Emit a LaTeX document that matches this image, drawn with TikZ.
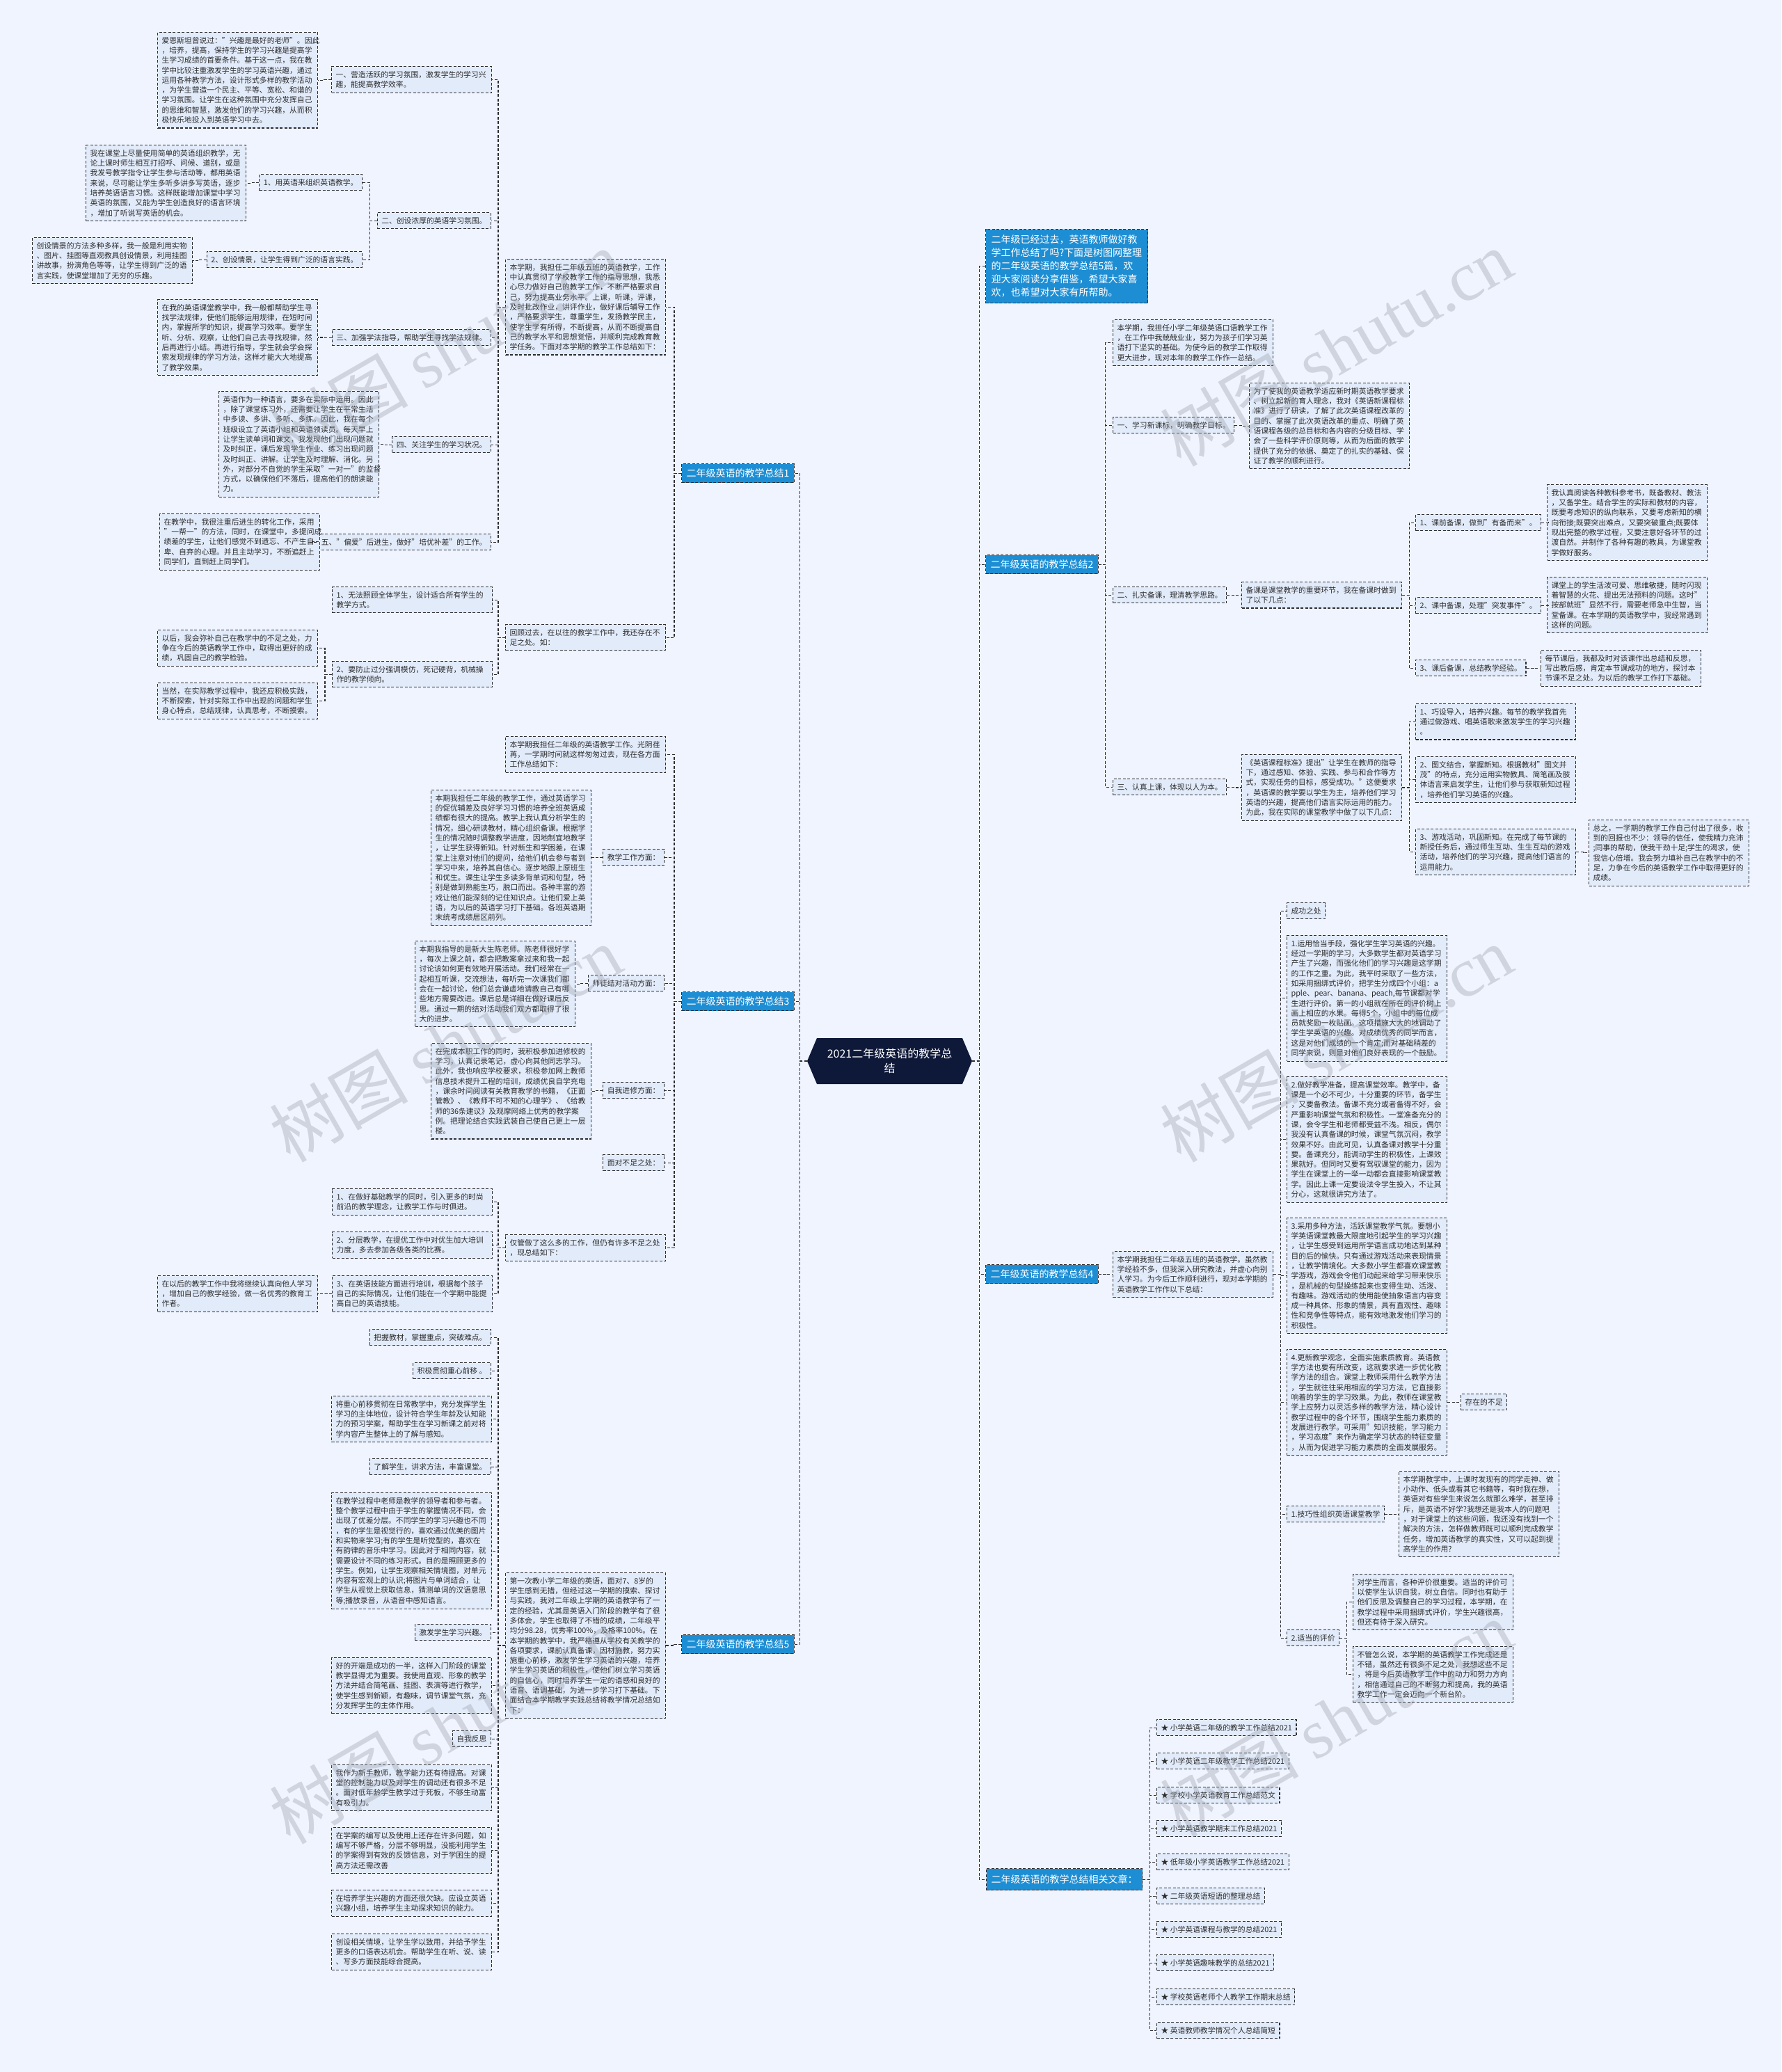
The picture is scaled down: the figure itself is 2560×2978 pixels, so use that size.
\documentclass[tikz,border=0pt]{standalone}
\usepackage{fontspec}
\setmainfont{Noto Sans CJK SC}
\newfontfamily\wmfont{Liberation Serif}
\definecolor{bgc}{RGB}{239,244,254}
\definecolor{leafc}{RGB}{226,235,250}
\definecolor{bluec}{RGB}{30,142,212}
\definecolor{navyc}{RGB}{14,24,56}
\definecolor{linec}{RGB}{45,45,50}
\definecolor{wmc}{RGB}{150,155,168}
\definecolor{txtc}{RGB}{45,45,45}
\tikzset{
 base/.style={draw=linec, dash pattern=on 4pt off 2.5pt, line width=1.1pt, inner xsep=6pt, inner ysep=6.5pt, align=left, font=\fontsize{10.8}{14.3}\selectfont, text=txtc},
 lf/.style={base, fill=leafc},
 pw/.style={lf, text width=218pt},
 bl/.style={base, fill=bluec, text=white, font=\fontsize{14}{19}\selectfont, inner xsep=7pt, inner ysep=7pt},
 cn/.style={draw=linec, dash pattern=on 4pt off 2.5pt, line width=1.1pt},
 wm/.style={rotate=30, text=wmc, opacity=0.35, font=\fontsize{100}{100}\selectfont},
}
\newcommand\lk[2]{\draw[cn] (#1.west) -- ++(-10pt,0pt) |- (#2.east);}
\newcommand\rk[2]{\draw[cn] (#1.east) -- ++(10pt,0pt) |- (#2.west);}
\begin{document}
\begin{tikzpicture}[x=1pt,y=-1pt]
\fill[bgc] (0,0) rectangle (2560,2978);
\useasboundingbox (0,0) rectangle (2560,2978);

% ---------- root ----------
\fill[navyc] (1160,1525) -- (1174,1492) -- (1383,1492) -- (1397,1525) -- (1383,1558) -- (1174,1558) -- cycle;
\node[text=white, font=\fontsize{16}{21}\selectfont, align=center, text width=200pt, inner xsep=18.5pt, inner ysep=4pt] (root) at (1278.5,1525) {2021二年级英语的教学总\\结};

% ---------- branch 1 ----------
\node[bl, anchor=north west] (b1) at (979,666) {二年级英语的教学总结1};
\node[pw, anchor=north west] (M1a) at (726,372) {本学期，我担任二年级五班的英语教学，工作\\中认真贯彻了学校教学工作的指导思想，我悉\\心尽力做好自己的教学工作，不断严格要求自\\己，努力提高业务水平。上课，听课，评课，\\及时批改作业，讲评作业，做好课后辅导工作\\，严格要求学生，尊重学生，发扬教学民主，\\使学生学有所得，不断提高，从而不断提高自\\己的教学水平和思想觉悟，并顺利完成教育教\\学任务。下面对本学期的教学工作总结如下：};
\node[pw, anchor=north west] (L1a) at (476,95) {一、营造活跃的学习氛围，激发学生的学习兴\\趣，能提高教学效率。};
\node[pw, anchor=north west] (P1a) at (226,46) {爱恩斯坦曾说过："兴趣是最好的老师"。因此\\，培养，提高，保持学生的学习兴趣是提高学\\生学习成绩的首要条件。基于这一点，我在教\\学中比较注重激发学生的学习英语兴趣，通过\\运用各种教学方法，设计形式多样的教学活动\\，为学生营造一个民主、平等、宽松、和谐的\\学习氛围。让学生在这种氛围中充分发挥自己\\的思维和智慧，激发他们的学习兴趣，从而积\\极快乐地投入到英语学习中去。};
\node[lf, anchor=north east] (L1c) at (706,305) {二、创设浓厚的英语学习氛围。};
\node[lf, anchor=north east] (L1b) at (521,250) {1、用英语来组织英语教学。};
\node[pw, anchor=north west] (P1b) at (123,208) {我在课堂上尽量使用简单的英语组织教学，无\\论上课时师生相互打招呼、问候、道别，或是\\我发号教学指令让学生参与活动等，都用英语\\来说，尽可能让学生多听多讲多写英语，逐步\\培养英语语言习惯。这样既能增加课堂中学习\\英语的氛围，又能为学生创造良好的语言环境\\，增加了听说写英语的机会。};
\node[lf, anchor=north east] (L1d) at (521,361) {2、创设情景，让学生得到广泛的语言实践。};
\node[pw, anchor=north west] (P1c) at (46,341) {创设情景的方法多种多样，我一般是利用实物\\、图片、挂图等直观教具创设情景，利用挂图\\讲故事，扮演角色等等，让学生得到广泛的语\\言实践，使课堂增加了无穷的乐趣。};
\node[lf, anchor=north east] (L1e) at (706,473) {三、加强学法指导，帮助学生寻找学法规律。};
\node[pw, anchor=north west] (P1d) at (226,430) {在我的英语课堂教学中，我一般都帮助学生寻\\找学法规律，使他们能够运用规律，在短时间\\内，掌握所学的知识，提高学习效率。要学生\\听、分析、观察，让他们自己去寻找规律，然\\后再进行小结。再进行指导，学生就会学会探\\索发现规律的学习方法，这样才能大大地提高\\了教学效果。};
\node[lf, anchor=north east] (L1f) at (706,627) {四、关注学生的学习状况。};
\node[pw, anchor=north west] (P1e) at (314,562) {英语作为一种语言，要多在实际中运用。因此\\，除了课堂练习外，还需要让学生在平常生活\\中多读、多讲、多听、多练。因此，我在每个\\班级设立了英语小组和英语领读员。每天早上\\让学生读单词和课文，我发现他们出现问题就\\及时纠正，课后发现学生作业、练习出现问题\\及时纠正、讲解。让学生及时理解、消化。另\\外，对部分不自觉的学生采取"一对一"的监督\\方式，以确保他们不落后，提高他们的朗读能\\力。};
\node[lf, anchor=north east] (L1g) at (706,767) {五、"偏爱"后进生，做好"培优补差"的工作。};
\node[pw, anchor=north west] (P1f) at (229,738) {在教学中，我很注重后进生的转化工作，采用\\"一帮一"的方法，同时，在课堂中，多提问成\\绩差的学生，让他们感觉不到遗忘、不产生自\\卑、自弃的心理。并且主动学习，不断追赶上\\同学们，直到赶上同学们。};
\node[pw, anchor=north west] (M1b) at (726,897) {回顾过去，在以往的教学工作中，我还存在不\\足之处。如：};
\node[pw, anchor=north west] (L1h) at (477,843) {1、无法照顾全体学生，设计适合所有学生的\\教学方式。};
\node[pw, anchor=north west] (L1i) at (477,950) {2、要防止过分强调模仿，死记硬背，机械操\\作的教学倾向。};
\node[pw, anchor=north west] (P1g) at (226,905) {以后，我会弥补自己在教学中的不足之处，力\\争在今后的英语教学工作中，取得出更好的成\\绩，巩固自己的教学检验。};
\node[pw, anchor=north west] (P1h) at (226,981) {当然，在实际教学过程中，我还应积极实践，\\不断探索，针对实际工作中出现的问题和学生\\身心特点，总结规律，认真思考，不断摸索。};

% ---------- branch 3 ----------
\node[bl, anchor=north west] (b3) at (979,1425) {二年级英语的教学总结3};
\node[pw, anchor=north west] (M3a) at (726,1058) {本学期我担任二年级的英语教学工作。光阴荏\\苒，一学期时间就这样匆匆过去，现在各方面\\工作总结如下：};
\node[lf, anchor=north east] (L3a) at (955,1220) {教学工作方面：};
\node[pw, anchor=north west] (P3a) at (619,1135) {本期我担任二年级的教学工作，通过英语学习\\的促优辅差及良好学习习惯的培养全班英语成\\绩都有很大的提高。教学上我认真分析学生的\\情况，细心研读教材，精心组织备课。根据学\\生的情况随时调整教学进度，因地制宜地教学\\，让学生获得新知。针对新生和学困差，在课\\堂上注意对他们的提问，给他们机会参与者到\\学习中来，培养其自信心。逐步地跟上原班生\\和优生。课生让学生多读多背单词和句型，特\\别是做到熟能生巧，脱口而出。各种丰富的游\\戏让他们能深刻的记住知识点。让他们爱上英\\语，为以后的英语学习打下基础。各班英语期\\末统考成绩居区前列。};
\node[lf, anchor=north east] (L3b) at (955,1401) {师徒结对活动方面：};
\node[pw, anchor=north west] (P3b) at (596,1352) {本期我指导的是新大生陈老师。陈老师很好学\\，每次上课之前，都会把教案拿过来和我一起\\讨论该如何更有效地开展活动。我们经常在一\\起相互听课，交流想法，每听完一次课我们都\\会在一起讨论，他们总会谦虚地请教自己有哪\\些地方需要改进。课后总是详细在做好课后反\\思。通过一期的结对活动我们双方都取得了很\\大的进步。};
\node[lf, anchor=north east] (L3c) at (955,1555) {自我进修方面：};
\node[pw, anchor=north west] (P3c) at (619,1499) {在完成本职工作的同时，我积极参加进修校的\\学习，认真记录笔记，虚心向其他同志学习。\\此外，我也响应学校要求，积极参加网上教师\\信息技术提升工程的培训，成绩优良自学充电\\，课余时间阅读有关教育教学的书籍，《正面\\管教》、《教师不可不知的心理学》、《给教\\师的36条建议》及观摩网络上优秀的教学案\\例。把理论结合实践武装自己使自己更上一层\\楼。};
\node[lf, anchor=north east] (L3d) at (955,1659) {面对不足之处：};
\node[pw, anchor=north west] (M3b) at (726,1774) {仅管做了这么多的工作，但仍有许多不足之处\\，现总结如下：};
\node[pw, anchor=north west] (L3e) at (477,1708) {1、在做好基础教学的同时，引入更多的时尚\\前沿的教学理念，让教学工作与时俱进。};
\node[pw, anchor=north west] (L3f) at (477,1770) {2、分层教学，在提优工作中对优生加大培训\\力度，多去参加各级各类的比赛。};
\node[pw, anchor=north west] (L3g) at (477,1833) {3、在英语技能方面进行培训，根据每个孩子\\自己的实际情况，让他们能在一个学期中能提\\高自己的英语技能。};
\node[pw, anchor=north west] (P3d) at (226,1833) {在以后的教学工作中我将继续认真向他人学习\\，增加自己的教学经验，做一名优秀的教育工\\作者。};

% ---------- branch 5 ----------
\node[bl, anchor=north west] (b5) at (979,2349) {二年级英语的教学总结5};
\node[pw, anchor=north west] (M5a) at (726,2260) {第一次教小学二年级的英语，面对7、8岁的\\学生感到无措，但经过这一学期的摸索、探讨\\与实践，我对二年级上学期的英语教学有了一\\定的经验，尤其是英语入门阶段的教学有了很\\多体会，学生也取得了不错的成绩，二年级平\\均分98.28，优秀率100\%，及格率100\%。在\\本学期的教学中，我严格遵从学校有关教学的\\各项要求，课前认真备课，因材施教，努力实\\施重心前移，激发学生学习英语的兴趣，培养\\学生学习英语的积极性，使他们树立学习英语\\的自信心，同时培养学生一定的语感和良好的\\语音、语调基础，为进一步学习打下基础。下\\面结合本学期教学实践总结将教学情况总结如\\下：};
\node[lf, anchor=north east] (L5a) at (706,1910) {把握教材，掌握重点，突破难点。};
\node[lf, anchor=north east] (L5b) at (706,1958) {积极贯彻重心前移 。};
\node[pw, anchor=north west] (P5a) at (476,2006) {将重心前移贯彻在日常教学中，充分发挥学生\\学习的主体地位，设计符合学生年龄及认知能\\力的预习学案，帮助学生在学习新课之前对将\\学内容产生整体上的了解与感知。};
\node[lf, anchor=north east] (L5c) at (706,2096) {了解学生，讲求方法，丰富课堂。};
\node[pw, anchor=north west] (P5b) at (476,2145) {在教学过程中老师是教学的领导者和参与者。\\整个教学过程中由于学生的掌握情况不同，会\\出现了优差分层。不同学生的学习兴趣也不同\\，有的学生是视觉行的，喜欢通过优美的图片\\和实物来学习;有的学生是听觉型的，喜欢在\\有韵律的音乐中学习。因此对于相同内容，就\\需要设计不同的练习形式。目的是照顾更多的\\学生。例如，让学生观察相关情境图，对单元\\内容有宏观上的认识;将图片与单词结合，让\\学生从视觉上获取信息，猜测单词的汉语意思\\等;播放录音，从语音中感知语言。};
\node[lf, anchor=north east] (L5d) at (706,2334) {激发学生学习兴趣。};
\node[pw, anchor=north west] (P5c) at (476,2382) {好的开端是成功的一半，这样入门阶段的课堂\\教学显得尤为重要。我使用直观、形象的教学\\方法并结合简笔画、挂图、表演等进行教学，\\使学生感到新颖，有趣味，调节课堂气氛，充\\分发挥学生的主体作用。};
\node[lf, anchor=north east] (L5e) at (706,2487) {自我反思};
\node[pw, anchor=north west] (P5d) at (476,2536) {我作为新手教师，教学能力还有待提高。对课\\堂的控制能力以及对学生的调动还有很多不足\\。面对低年龄学生教学过于死板，不够生动富\\有吸引力。};
\node[pw, anchor=north west] (P5e) at (476,2626) {在学案的编写以及使用上还存在许多问题，如\\编写不够严格，分层不够明显，没能利用学生\\的学案得到有效的反馈信息，对于学困生的提\\高方法还需改善};
\node[pw, anchor=north west] (P5f) at (476,2716) {在培养学生兴趣的方面还很欠缺。应设立英语\\兴趣小组，培养学生主动探求知识的能力。};
\node[pw, anchor=north west] (P5g) at (476,2779) {创设相关情境，让学生学以致用，并给予学生\\更多的口语表达机会。帮助学生在听、说、读\\、写多方面技能综合提高。};

% ---------- right: intro ----------
\node[bl, anchor=north west, text width=217pt, inner xsep=8pt, inner ysep=8.5pt] (R0) at (1416,329) {二年级已经过去，英语教师做好教\\学工作总结了吗?下面是树图网整理\\的二年级英语的教学总结5篇，欢\\迎大家阅读分享借鉴，希望大家喜\\欢，也希望对大家有所帮助。};

% ---------- branch 2 ----------
\node[bl, anchor=north west] (b2) at (1416,797) {二年级英语的教学总结2};
\node[pw, anchor=north west] (M2a) at (1599,459) {本学期，我担任小学二年级英语口语教学工作\\，在工作中我兢兢业业，努力为孩子们学习英\\语打下坚实的基础。为使今后的教学工作取得\\更大进步，现对本年的教学工作作一总结。};
\node[lf, anchor=north west] (R2a) at (1599,599) {一、学习新课标，明确教学目标。};
\node[pw, anchor=north west] (P2a) at (1795,550) {为了使我的英语教学适应新时期英语教学要求\\、树立起新的育人理念，我对《英语新课程标\\准》进行了研读，了解了此次英语课程改革的\\目的、掌握了此次英语改革的重点、明确了英\\语课程各级的总目标和各内容的分级目标、学\\会了一些科学评价原则等，从而为后面的教学\\提供了充分的依据、奠定了的扎实的基础、保\\证了教学的顺利进行。};
\node[lf, anchor=north west] (R2b) at (1599,843) {二、扎实备课，理清教学思路。};
\node[pw, anchor=north west] (M2b) at (1784,836) {备课是课堂教学的重要环节，我在备课时做到\\了以下几点：};
\node[lf, anchor=north west] (R2c) at (2034,739) {1、课前备课，做到"有备而来"。};
\node[pw, anchor=north west] (P2b) at (2223,696) {我认真阅读各种教科参考书，既备教材、教法\\，又备学生。结合学生的实际和教材的内容，\\既要考虑知识的纵向联系，又要考虑新知的横\\向衔接;既要突出难点，又要突破重点;既要体\\现出完整的教学过程，又要注意好各环节的过\\渡自然。并制作了各种有趣的教具，为课堂教\\学做好服务。};
\node[lf, anchor=north west] (R2d) at (2034,858) {2、课中备课，处理"突发事件"。};
\node[pw, anchor=north west] (P2c) at (2223,829) {课堂上的学生活泼可爱、思维敏捷，随时闪现\\着智慧的火花、提出无法预料的问题。这时"\\按部就班"显然不行，需要老师急中生智，当\\堂备课。在本学期的英语教学中，我经常遇到\\这样的问题。};
\node[lf, anchor=north west] (R2e) at (2034,948) {3、课后备课，总结教学经验。};
\node[pw, anchor=north west] (P2d) at (2214,934) {每节课后，我都及时对该课作出总结和反思，\\写出教后感，肯定本节课成功的地方，探讨本\\节课不足之处。为以后的教学工作打下基础。};
\node[lf, anchor=north west] (R2f) at (1599,1119) {三、认真上课，体现以人为本。};
\node[pw, anchor=north west] (M2c) at (1784,1084) {《英语课程标准》提出"让学生在教师的指导\\下，通过感知、体验、实践、参与和合作等方\\式，实现任务的目标，感受成功。"这便要求\\，英语课的教学要以学生为主，培养他们学习\\英语的兴趣，提高他们语言实际运用的能力。\\为此，我在实际的课堂教学中做了以下几点：};
\node[pw, anchor=north west] (R2g) at (2034,1011) {1、巧设导入，培养兴趣。每节的教学我首先\\通过做游戏、唱英语歌来激发学生的学习兴趣\\。};
\node[pw, anchor=north west] (R2h) at (2034,1087) {2、图文结合，掌握新知。根据教材"图文并\\茂"的特点，充分运用实物教具、简笔画及肢\\体语言来启发学生，让他们参与获取新知过程\\，培养他们学习英语的兴趣。};
\node[pw, anchor=north west] (R2i) at (2034,1191) {3、游戏活动，巩固新知。在完成了每节课的\\新授任务后，通过师生互动、生生互动的游戏\\活动，培养他们的学习兴趣，提高他们语言的\\运用能力。};
\node[pw, anchor=north west] (P2e) at (2283,1178) {总之，一学期的教学工作自己付出了很多，收\\到的回报也不少：领导的信任，使我精力充沛\\;同事的帮助，使我干劲十足;学生的渴求，使\\我信心倍增。我会努力填补自己在教学中的不\\足，力争在今后的英语教学工作中取得更好的\\成绩。};

% ---------- branch 4 ----------
\node[bl, anchor=north west] (b4) at (1416,1817) {二年级英语的教学总结4};
\node[pw, anchor=north west] (M4a) at (1599,1798) {本学期我担任二年级五班的英语教学。虽然教\\学经验不多，但我深入研究教法，并虚心向别\\人学习。为今后工作顺利进行，现对本学期的\\英语教学工作作以下总结：};
\node[lf, anchor=north west] (R4a) at (1849,1297) {成功之处};
\node[pw, anchor=north west] (P4a) at (1849,1344) {1.运用恰当手段，强化学生学习英语的兴趣。\\经过一学期的学习，大多数学生都对英语学习\\产生了兴趣，而强化他们的学习兴趣是这学期\\的工作之重。为此，我平时采取了一些方法，\\如采用捆绑式评价，把学生分成四个小组：a\\pple、pear、banana、peach,每节课都对学\\生进行评价。第一的小组就在所在的评价树上\\画上相应的水果。每得5个，小组中的每位成\\员就奖励一枚贴画。这项措施大大的地调动了\\学生学英语的兴趣。对成绩优秀的同学而言，\\这是对他们成绩的一个肯定;而对基础稍差的\\同学来说，则是对他们良好表现的一个鼓励。};
\node[pw, anchor=north west] (P4b) at (1849,1547) {2.做好教学准备，提高课堂效率。教学中，备\\课是一个必不可少，十分重要的环节，备学生\\，又要备教法。备课不充分或者备得不好，会\\严重影响课堂气氛和积极性。一堂准备充分的\\课，会令学生和老师都受益不浅。相反，偶尔\\我没有认真备课的时候，课堂气氛沉闷，教学\\效果不好。由此可见，认真备课对教学十分重\\要。备课充分，能调动学生的积极性，上课效\\果就好。但同时又要有驾驭课堂的能力，因为\\学生在课堂上的一举一动都会直接影响课堂教\\学。因此上课一定要设法令学生投入，不让其\\分心，这就很讲究方法了。};
\node[pw, anchor=north west] (P4c) at (1849,1750) {3.采用多种方法，活跃课堂教学气氛。要想小\\学英语课堂教最大限度地引起学生的学习兴趣\\，让学生感受到运用所学语言成功地达到某种\\目的后的愉快。只有通过游戏活动来表现情景\\，让教学情境化。大多数小学生都喜欢课堂教\\学游戏，游戏会令他们动起来给学习带来快乐\\，是机械的句型操练起来也变得生动、活泼、\\有趣味。游戏活动的使用能使抽象语言内容变\\成一种具体、形象的情景，具有直观性、趣味\\性和竞争性等特点，能有效地激发他们学习的\\积极性。};
\node[pw, anchor=north west] (P4d) at (1849,1939) {4.更新教学观念，全面实施素质教育。英语教\\学方法也要有所改变，这就要求进一步优化教\\学方法的组合。课堂上教师采用什么教学方法\\，学生就往往采用相应的学习方法，它直接影\\响着的学生的学习效果。为此，教师在课堂教\\学上应努力以灵活多样的教学方法，精心设计\\教学过程中的各个环节，围绕学生能力素质的\\发展进行教学。可采用"知识技能，学习能力\\，学习态度"来作为确定学习状态的特征变量\\，从而为促进学习能力素质的全面发展服务。};
\node[lf, anchor=north west] (R4b) at (2099,2003) {存在的不足};
\node[lf, anchor=north west] (R4c) at (1849,2164) {1.技巧性组织英语课堂教学};
\node[pw, anchor=north west] (P4e) at (2010,2114) {本学期教学中，上课时发现有的同学走神、做\\小动作、低头或看其它书籍等，有时我在想，\\英语对有些学生来说怎么就那么难学，甚至排\\斥，是英语不好学?我想还是我本人的问题吧\\，对于课堂上的这些问题，我还没有找到一个\\解决的方法，怎样做教师既可以顺利完成教学\\任务，增加英语教学的真实性，又可以起到提\\高学生的作用?};
\node[lf, anchor=north west] (R4d) at (1849,2342) {2.适当的评价};
\node[pw, anchor=north west] (P4f) at (1944,2262) {对学生而言，各种评价很重要。适当的评价可\\以使学生认识自我，树立自信。同时也有助于\\他们反思及调整自己的学习过程，本学期，在\\教学过程中采用捆绑式评价，学生兴趣很高，\\但还有待于深入研究。};
\node[pw, anchor=north west] (P4g) at (1944,2366) {不管怎么说，本学期的英语教学工作完成还是\\不错，虽然还有很多不足之处，我想这些不足\\，将是今后英语教学工作中的动力和努力方向\\，相信通过自己的不断努力和提高，我的英语\\教学工作一定会迈向一个新台阶。};

% ---------- related ----------
\node[bl, anchor=north west, inner ysep=9pt] (rel) at (1417,2685) {二年级英语的教学总结相关文章：};
\node[lf, anchor=north west] (A1) at (1662,2471) {★ 小学英语二年级的教学工作总结2021};
\node[lf, anchor=north west] (A2) at (1662,2519) {★ 小学英语二年级教学工作总结2021};
\node[lf, anchor=north west] (A3) at (1662,2568) {★ 学校小学英语教育工作总结范文};
\node[lf, anchor=north west] (A4) at (1662,2616) {★ 小学英语教学期末工作总结2021};
\node[lf, anchor=north west] (A5) at (1662,2664) {★ 低年级小学英语教学工作总结2021};
\node[lf, anchor=north west] (A6) at (1662,2713) {★ 二年级英语短语的整理总结};
\node[lf, anchor=north west] (A7) at (1662,2761) {★ 小学英语课程与教学的总结2021};
\node[lf, anchor=north west] (A8) at (1662,2809) {★ 小学英语趣味教学的总结2021};
\node[lf, anchor=north west] (A9) at (1662,2858) {★ 学校英语老师个人教学工作期末总结};
\node[lf, anchor=north west] (A10) at (1662,2906) {★ 英语教师教学情况个人总结简短};

% ---------- connectors ----------
\lk{root}{b1} \lk{root}{b3} \lk{root}{b5}
\lk{b1}{M1a} \lk{b1}{M1b}
\lk{M1a}{L1a} \lk{M1a}{L1c} \lk{M1a}{L1e} \lk{M1a}{L1f} \lk{M1a}{L1g}
\lk{L1a}{P1a} \lk{L1c}{L1b} \lk{L1c}{L1d} \lk{L1b}{P1b} \lk{L1d}{P1c}
\lk{L1e}{P1d} \lk{L1f}{P1e} \lk{L1g}{P1f}
\lk{M1b}{L1h} \lk{M1b}{L1i} \lk{L1i}{P1g} \lk{L1i}{P1h}
\lk{b3}{M3a} \lk{b3}{L3a} \lk{b3}{L3b} \lk{b3}{L3c} \lk{b3}{L3d} \lk{b3}{M3b}
\lk{L3a}{P3a} \lk{L3b}{P3b} \lk{L3c}{P3c}
\lk{M3b}{L3e} \lk{M3b}{L3f} \lk{M3b}{L3g} \lk{L3g}{P3d}
\lk{b5}{M5a}
\lk{M5a}{L5a} \lk{M5a}{L5b} \lk{M5a}{P5a} \lk{M5a}{L5c} \lk{M5a}{P5b} \lk{M5a}{L5d}
\lk{M5a}{P5c} \lk{M5a}{L5e} \lk{M5a}{P5d} \lk{M5a}{P5e} \lk{M5a}{P5f} \lk{M5a}{P5g}
\rk{root}{R0} \rk{root}{b2} \rk{root}{b4} \rk{root}{rel}
\rk{b2}{M2a} \rk{b2}{R2a} \rk{b2}{R2b} \rk{b2}{R2f}
\rk{R2a}{P2a} \rk{R2b}{M2b} \rk{M2b}{R2c} \rk{M2b}{R2d} \rk{M2b}{R2e}
\rk{R2c}{P2b} \rk{R2d}{P2c} \rk{R2e}{P2d}
\rk{R2f}{M2c} \rk{M2c}{R2g} \rk{M2c}{R2h} \rk{M2c}{R2i} \rk{R2i}{P2e}
\rk{b4}{M4a}
\rk{M4a}{R4a} \rk{M4a}{P4a} \rk{M4a}{P4b} \rk{M4a}{P4c} \rk{M4a}{P4d} \rk{M4a}{R4c} \rk{M4a}{R4d}
\rk{P4d}{R4b} \rk{R4c}{P4e} \rk{R4d}{P4f} \rk{R4d}{P4g}
\rk{rel}{A1} \rk{rel}{A2} \rk{rel}{A3} \rk{rel}{A4} \rk{rel}{A5}
\rk{rel}{A6} \rk{rel}{A7} \rk{rel}{A8} \rk{rel}{A9} \rk{rel}{A10}

% ---------- watermarks ----------
\node[wm] (wm1) at (640,500) {树图 {\wmfont shutu.cn}};
\node[wm] (wm2) at (1920,500) {树图 {\wmfont shutu.cn}};
\node[wm] (wm3) at (640,1500) {树图 {\wmfont shutu.cn}};
\node[wm] (wm4) at (1920,1500) {树图 {\wmfont shutu.cn}};
\node[wm] (wm5) at (640,2480) {树图 {\wmfont shutu.cn}};
\node[wm] (wm6) at (1920,2470) {树图 {\wmfont shutu.cn}};
\end{tikzpicture}
\end{document}
